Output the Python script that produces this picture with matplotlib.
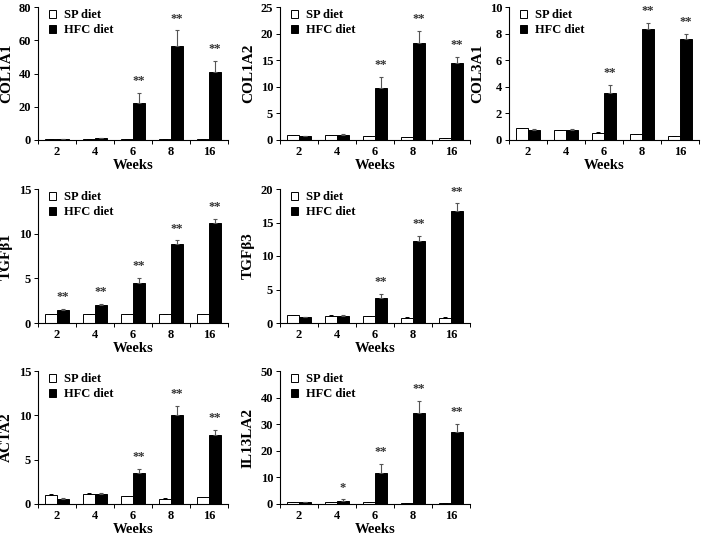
import numpy as np
import matplotlib
matplotlib.use('Agg')
from matplotlib import pyplot as plt

plt.rcParams['font.family'] = ['Liberation Serif', 'DejaVu Serif']
plt.rcParams['font.weight'] = 'bold'

weeks = ['2', '4', '6', '8', '16']

# values (mean, upper error)
col1a1_sp = [0.8, 0.8, 0.5, 0.4, 0.4]
col1a1_sp_err = [0.1, 0.1, 0.1, 0.05, 0.05]
col1a1_hfc = [0.5, 1.0, 22.0, 56.5, 41.0]
col1a1_hfc_err = [0.2, 0.3, 6.5, 9.5, 6.8]
col1a1_stars = ['', '', '**', '**', '**']

col1a2_sp = [0.95, 0.95, 0.75, 0.55, 0.35]
col1a2_sp_err = [0.05, 0.05, 0.05, 0.03, 0.03]
col1a2_hfc = [0.7, 1.0, 9.7, 18.3, 14.4]
col1a2_hfc_err = [0.05, 0.15, 2.2, 2.2, 1.2]
col1a2_stars = ['', '', '**', '**', '**']

col3a1_sp = [0.9, 0.75, 0.55, 0.42, 0.3]
col3a1_sp_err = [0.03, 0.03, 0.03, 0.03, 0.02]
col3a1_hfc = [0.75, 0.75, 3.55, 8.35, 7.6]
col3a1_hfc_err = [0.08, 0.08, 0.6, 0.45, 0.4]
col3a1_stars = ['', '', '**', '**', '**']

tgfb1_sp = [1.0, 1.0, 1.0, 1.0, 1.0]
tgfb1_sp_err = [0.05, 0.05, 0.05, 0.05, 0.05]
tgfb1_hfc = [1.5, 2.05, 4.45, 8.85, 11.25]
tgfb1_hfc_err = [0.1, 0.1, 0.6, 0.4, 0.4]
tgfb1_stars = ['**', '**', '**', '**', '**']

tgfb3_sp = [1.15, 1.1, 1.05, 0.8, 0.8]
tgfb3_sp_err = [0.1, 0.1, 0.05, 0.1, 0.05]
tgfb3_hfc = [0.85, 1.1, 3.8, 12.2, 16.7]
tgfb3_hfc_err = [0.1, 0.1, 0.6, 0.8, 1.2]
tgfb3_stars = ['', '', '**', '**', '**']

acta2_sp = [1.0, 1.15, 0.85, 0.6, 0.8]
acta2_sp_err = [0.1, 0.1, 0.1, 0.05, 0.03]
acta2_hfc = [0.6, 1.1, 3.5, 10.0, 7.75]
acta2_hfc_err = [0.05, 0.1, 0.45, 1.1, 0.6]
acta2_stars = ['', '', '**', '**', '**']

il13la2_sp = [0.8, 0.8, 0.6, 0.4, 0.3]
il13la2_sp_err = [0.1, 0.1, 0.1, 0.05, 0.05]
il13la2_hfc = [0.7, 1.3, 11.5, 34.2, 27.0]
il13la2_hfc_err = [0.1, 0.4, 3.6, 4.7, 3.2]
il13la2_stars = ['', '*', '**', '**', '**']

panels = [
  ('COL1A1', col1a1_sp, col1a1_sp_err, col1a1_hfc, col1a1_hfc_err, col1a1_stars, 80, 20),
  ('COL1A2', col1a2_sp, col1a2_sp_err, col1a2_hfc, col1a2_hfc_err, col1a2_stars, 25, 5),
  ('COL3A1', col3a1_sp, col3a1_sp_err, col3a1_hfc, col3a1_hfc_err, col3a1_stars, 10, 2),
  ('TGF\u03b21', tgfb1_sp, tgfb1_sp_err, tgfb1_hfc, tgfb1_hfc_err, tgfb1_stars, 15, 5),
  ('TGF\u03b23', tgfb3_sp, tgfb3_sp_err, tgfb3_hfc, tgfb3_hfc_err, tgfb3_stars, 20, 5),
  ('ACTA2', acta2_sp, acta2_sp_err, acta2_hfc, acta2_hfc_err, acta2_stars, 15, 5),
  ('IL13LA2', il13la2_sp, il13la2_sp_err, il13la2_hfc, il13la2_hfc_err, il13la2_stars, 50, 10),
]

W, H = 709, 538
lefts = [38, 280, 509]
rows = [(7, 140), (189, 323), (371, 504)]
cells = [(0, 0), (0, 1), (0, 2), (1, 0), (1, 1), (2, 0), (2, 1)]
axw = 190

fig = plt.figure(figsize=(W / 100, H / 100), dpi=100)
x = np.arange(len(weeks))
bw = 0.32

for (r, c), (name, sp, sp_err, hfc, hfc_err, stars, top, step) in zip(cells, panels):
  t, b = rows[r]
  ax = fig.add_axes([lefts[c] / W, 1 - b / H, axw / W, (b - t) / H])
  b1 = ax.bar(x - bw / 2, sp, bw, color='white', edgecolor='black', linewidth=0.7, label='SP diet')
  b2 = ax.bar(x + bw / 2, hfc, bw, color='black', edgecolor='black', linewidth=0.7, label='HFC diet')
  ax.errorbar(x - bw / 2, sp, yerr=[np.zeros(len(sp)), sp_err], fmt='none',
              ecolor='black', elinewidth=0.7, capsize=1.5, capthick=0.7)
  ax.errorbar(x + bw / 2, hfc, yerr=[np.zeros(len(hfc)), hfc_err], fmt='none',
              ecolor='#555555', elinewidth=0.8, capsize=1.5, capthick=0.8)
  for i in range(len(weeks)):
    if stars[i]:
      ax.annotate(stars[i], (x[i] + bw / 2, hfc[i] + hfc_err[i]), xytext=(0, 4),
                  textcoords='offset points', ha='center', va='bottom',
                  fontsize=9, color='#333333')
  ax.set_xlim(-0.5, 4.5)
  ax.set_ylim(0, top)
  ax.set_yticks(np.arange(0, top + step / 2, step))
  ax.set_xticks(x)
  ax.set_xticklabels(weeks)
  ax.set_xticks(np.arange(-0.5, 5, 1.0), minor=True)
  ax.tick_params(axis='x', which='major', length=0, pad=4, labelsize=9)
  ax.tick_params(axis='x', which='minor', length=3, width=0.7)
  ax.tick_params(axis='y', length=3, width=0.7, labelsize=9, pad=2)
  for s in ['top', 'right']:
    ax.spines[s].set_visible(False)
  for s in ['left', 'bottom']:
    ax.spines[s].set_linewidth(0.8)
  ax.set_ylabel(name, fontsize=11, fontweight='bold', labelpad=4)
  ax.set_xlabel('Weeks', fontsize=10.5, fontweight='bold', labelpad=1)
  ax.legend(handles=[b1, b2], loc='upper left', bbox_to_anchor=(0.03, 1.02), frameon=False,
            fontsize=9, handlelength=0.6, handleheight=0.6, handletextpad=0.6,
            labelspacing=0.25, borderaxespad=0)

plt.savefig('out.png', dpi=100)
